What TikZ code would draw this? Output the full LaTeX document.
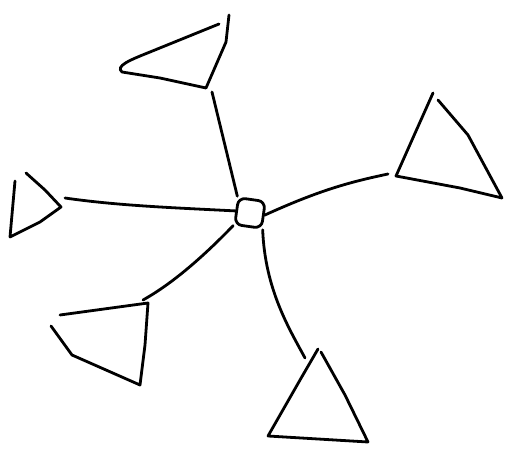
\documentclass[tikz,border=0pt]{standalone}
\begin{document}
\begin{tikzpicture}[x=1pt,y=-1pt,line width=2.8pt,line cap=round,line join=round]
\useasboundingbox (0,0) rectangle (519,454);
\node[draw,rounded corners=7pt,minimum size=27pt,inner sep=0pt,rotate=-8] (hub) at (250,213) {};
\coordinate (top) at (212,92);
\coordinate (right) at (388,174);
\coordinate (left) at (65,198);
\coordinate (botleft) at (143,300);
\coordinate (bot) at (305,358);
\draw (229,15) -- (226,42) -- (206,88) -- (160,78) -- (122,72) .. controls (115,66) and (130,60) .. (150,52) -- (219,24);
\draw (433,93) -- (412,140) -- (396,176) -- (460,188) -- (502,198) -- (468,135) -- (438,100);
\draw (15,181) -- (10,237) -- (40,222) -- (61,207) -- (45,190) -- (26,173);
\draw (60,315) -- (148,303) -- (145,345) -- (140,385) -- (72,355) -- (51,326);
\draw (318,349) -- (300,380) -- (268,436) -- (368,442) -- (345,395) -- (321,352);
\draw (hub.north west) -- (top);
\draw (hub.east) .. controls (320,190) and (350,182) .. (right);
\draw (hub.west) .. controls (180,208) and (120,206) .. (left);
\draw (hub.south west) .. controls (200,260) and (170,285) .. (botleft);
\draw (hub.south east) .. controls (265,290) and (290,330) .. (bot);
\end{tikzpicture}
\end{document}
